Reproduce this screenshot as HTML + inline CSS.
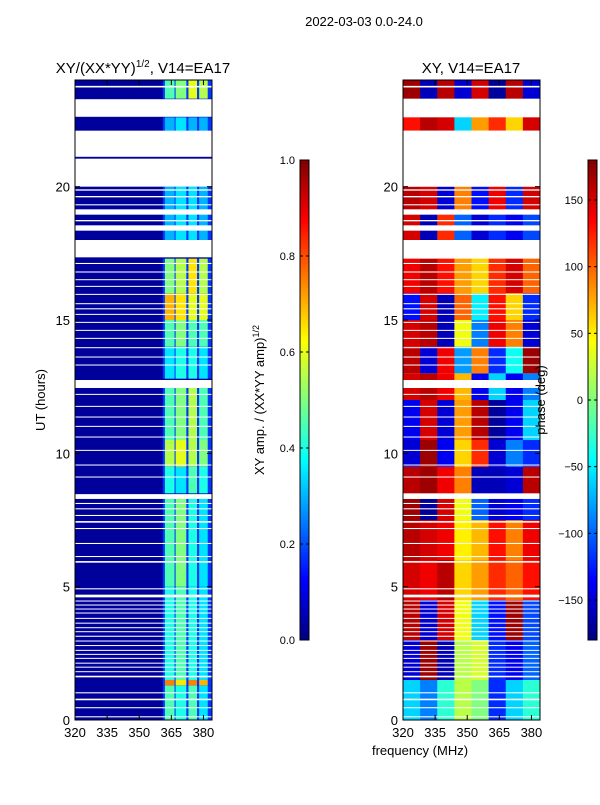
<!DOCTYPE html>
<html><head><meta charset="utf-8"><style>
body{margin:0;background:#fff;font-family:"Liberation Sans","DejaVu Sans",sans-serif}
svg text{font-family:"Liberation Sans","DejaVu Sans",sans-serif;fill:#000}
</style></head><body>
<svg id="fig" width="600" height="800" xmlns="http://www.w3.org/2000/svg">
<text x="364" y="26" font-size="13" text-anchor="middle">2022-03-03 0.0-24.0</text>
<text x="143" y="73" font-size="15" text-anchor="middle">XY/(XX*YY)<tspan font-size="10" dy="-6">1/2</tspan><tspan dy="6">, V14=EA17</tspan></text>
<text x="471" y="73" font-size="15" text-anchor="middle">XY, V14=EA17</text>
<text transform="translate(45,400) rotate(-90)" font-size="13" text-anchor="middle">UT (hours)</text>
<text x="420" y="755" font-size="13" text-anchor="middle">frequency (MHz)</text>
<text transform="translate(264,400) rotate(-90)" font-size="13" text-anchor="middle">XY amp. / (XX*YY amp)<tspan font-size="9" dy="-5">1/2</tspan></text>
<g id="plots"></g>
<text transform="translate(545,400) rotate(-90)" font-size="13" text-anchor="middle">phase (deg)</text>
</svg>
<script>
const gapHours = [[23.72,23.78],[22.62,23.28],[21.12,22.1],[20.0,21.05],[19.85,19.9],[19.6,19.65],[19.3,19.34],[18.95,19.15],[18.7,18.75],[18.35,18.55],[17.35,18.0],[17.1,17.14],[16.78,16.82],[16.5,16.53],[16.25,16.28],[15.95,15.98],[15.6,15.63],[15.4,15.44],[15.2,15.23],[14.9,14.93],[14.6,14.63],[14.3,14.33],[13.95,13.98],[13.6,13.63],[13.3,13.33],[12.45,12.75],[12.2,12.23],[11.75,11.78],[11.35,11.38],[11.0,11.03],[10.6,10.63],[10.1,10.13],[9.55,9.58],[9.1,9.13],[8.29,8.47],[8.1,8.14],[7.9,7.94],[7.65,7.69],[7.4,7.46],[7.16,7.2],[6.6,6.64],[6.11,6.15],[5.9,5.96],[4.9,4.94],[4.6,4.7],[4.45,4.48],[4.3,4.33],[4.15,4.18],[4.0,4.03],[3.8,3.83],[3.62,3.65],[3.45,3.48],[3.3,3.33],[3.12,3.16],[2.95,2.98],[2.78,2.81],[2.6,2.63],[2.45,2.48],[2.3,2.33],[2.12,2.15],[1.97,2.0],[1.8,1.83],[1.6,1.66],[1.0,1.04],[0.74,0.8],[0.44,0.48],[0.1,0.14]];
const ampStripes = [[362,366.5],[367,372],[373,377],[378,382]];
const ampRowStarts = [0,1.3,1.5,5,8.5,9.5,10.5,12.8,14,15,16,18,22,23.3];
const ampRowEnds =   [1.3,1.5,5,8.3,9.5,10.5,12.5,14,15,16,17.3,20,22.6,24];
const ampValues = [[0.45,0.4,0.45,0.35],[0.75,0.65,0.75,0.7],[0.4,0.45,0.4,0.35],[0.45,0.5,0.4,0.35],[0.4,0.35,0.45,0.4],[0.55,0.6,0.55,0.5],[0.45,0.5,0.55,0.45],[0.35,0.4,0.4,0.35],[0.45,0.5,0.45,0.45],[0.7,0.65,0.6,0.6],[0.5,0.55,0.65,0.55],[0.3,0.35,0.35,0.3],[0.3,0.35,0.3,0.3],[0.45,0.5,0.6,0.55]];
const phaseFreqEdges = [320,328,336,344,352,360,368,376,384];
const phaseRowStarts = [0,1.5,3,4.5,6,7.5,8.5,9.5,10.5,12,13,14,15,16,18,19,22.1,23.3];
const phaseRowEnds =   [1.5,3,4.5,6,7.5,8.3,9.5,10.5,12,13,14,15,16,17.3,19,20,22.6,24];
const phaseValues = [
[-60,-90,-30,20,0,-120,-60,-30],
[-150,170,-160,20,30,-120,-140,-100],
[160,-150,150,40,-60,-130,170,-110],
[150,140,160,60,80,120,100,130],
[160,150,140,50,70,130,90,140],
[170,-170,150,40,-100,-150,-140,-120],
[160,170,140,90,-160,-160,-150,160],
[-150,170,-140,60,120,-150,-90,-120],
[-140,150,-150,80,160,-170,-140,-60],
[150,160,140,70,-140,-60,-140,-90],
[160,-150,140,-80,90,-120,-40,170],
[150,160,-160,40,-90,140,90,-150],
[-130,150,-160,100,-50,130,60,-120],
[140,160,130,80,60,120,150,100],
[150,-160,120,-100,-150,-120,-140,-110],
[160,150,-150,90,-130,140,-120,150],
[130,160,150,-60,80,120,60,150],
[170,-160,160,-150,150,-170,160,-150]];
const ampTicks = [0.0,0.2,0.4,0.6,0.8,1.0];
const phaseTicks = [-150,-100,-50,0,50,100,150];
const yTicks = [0,5,10,15,20];
const xTicks = [320,335,350,365,380];

const NS='http://www.w3.org/2000/svg';
const G=document.getElementById('plots');
function el(tag,attrs,parent){const e=document.createElementNS(NS,tag);for(const k in attrs)e.setAttribute(k,attrs[k]);(parent||G).appendChild(e);return e;}
function jet(v){v=Math.max(0,Math.min(1,v));const r=Math.max(0,Math.min(1,1.5-Math.abs(4*v-3))),g=Math.max(0,Math.min(1,1.5-Math.abs(4*v-2))),b=Math.max(0,Math.min(1,1.5-Math.abs(4*v-1)));return `rgb(${Math.round(r*255)},${Math.round(g*255)},${Math.round(b*255)})`;}
const yTop=80,yBot=720;
function yS(h){return yBot-(h/24)*(yBot-yTop);}
function xL(f){return 75+(f-320)*(212-75)/64;}
function xR(f){return 403+(f-320)*(540-403)/64;}

const lp=el('g',{});


el('rect',{x:75,y:80,width:137,height:640,fill:'#00009a'},lp);
ampRowStarts.forEach((s,i)=>{
  const e=ampRowEnds[i];
  const bg=el('rect',{x:xL(361),y:yS(e),width:xL(384)-xL(361),height:yS(s)-yS(e),fill:jet(0.18)},lp);
  
  ampStripes.forEach((st,j)=>{
    const c=el('rect',{x:xL(st[0]),y:yS(e),width:xL(st[1])-xL(st[0]),height:yS(s)-yS(e),fill:jet(ampValues[i][j])},lp);
    
  });
});
const rp=el('g',{});


el('rect',{x:403,y:80,width:137,height:640,fill:'#fff'},rp);
phaseRowStarts.forEach((s,i)=>{
  const e=phaseRowEnds[i];
  for(let j=0;j<phaseFreqEdges.length-1;j++){
    const c=el('rect',{x:xR(phaseFreqEdges[j]),y:yS(e),width:xR(phaseFreqEdges[j+1])-xR(phaseFreqEdges[j])+0.5,height:yS(s)-yS(e),fill:jet((phaseValues[i][j]+180)/360)},rp);
    
  }
});
gapHours.forEach(g=>{
  [[75,137],[403,137]].forEach(p=>{
    const r=el('rect',{x:p[0],y:yS(g[1]),width:p[1],height:Math.max(1,yS(g[0])-yS(g[1])),fill:'#fff'});
    
  });
});
[[75,xL],[403,xR]].forEach(([x0,xs],pi)=>{
  const f=el('rect',{x:x0,y:80,width:137,height:640,fill:'none',stroke:'#000','stroke-width':1});
  
  yTicks.forEach(t=>{
    const y=yS(t);
    el('line',{x1:x0,x2:x0+5,y1:y,y2:y,stroke:'#000'});
    el('line',{x1:x0+137,x2:x0+132,y1:y,y2:y,stroke:'#000'});
    const tx=el('text',{x:x0-5,y:y+5,'font-size':13,'text-anchor':'end'});tx.textContent=t;
    
  });
  xTicks.forEach(t=>{
    const x=xs(t);
    el('line',{x1:x,x2:x,y1:720,y2:715,stroke:'#000'});
    el('line',{x1:x,x2:x,y1:80,y2:85,stroke:'#000'});
    const tx=el('text',{x:x,y:737,'font-size':13,'text-anchor':'middle'});tx.textContent=t;
    
  });
});
function cbar(x0,ticks,lo,hi,name,fmt){
  const g=el('g',{});
  
  
  for(let i=0;i<120;i++){
    el('rect',{x:x0,y:640-(i+1)*4,width:9,height:4.5,fill:jet((i+0.5)/120)},g);
  }
  el('rect',{x:x0,y:160,width:9,height:480,fill:'none',stroke:'#000'},g);
  ticks.forEach(t=>{
    const y=640-(t-lo)/(hi-lo)*480;
    el('line',{x1:x0,x2:x0+3,y1:y,y2:y,stroke:'#000'},g);
    el('line',{x1:x0+9,x2:x0+6,y1:y,y2:y,stroke:'#000'},g);
    const tx=el('text',{x:x0-5,y:y+4,'font-size':11,'text-anchor':'end'},g);tx.textContent=fmt(t);
    
  });
}
cbar(300,ampTicks,0,1,'amplitude-colorbar',t=>t.toFixed(1));
cbar(588,phaseTicks,-180,180,'phase-colorbar',t=>t<0?'\u2212'+(-t):String(t));
</script>
</body></html>
